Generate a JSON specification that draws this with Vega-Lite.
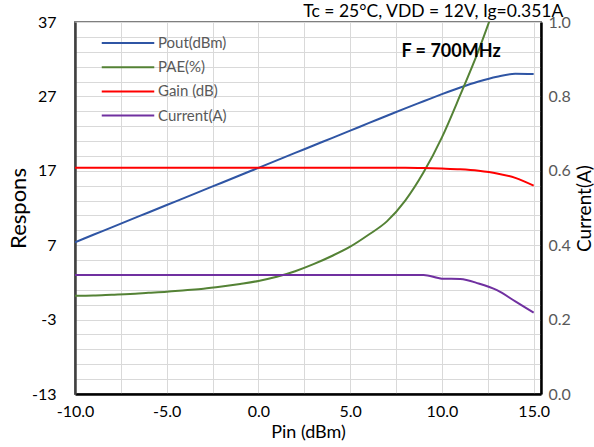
{
  "$schema": "https://vega.github.io/schema/vega-lite/v6.json",
  "width": 466,
  "height": 372,
  "autosize": {"type": "none"},
  "padding": {"left": 75, "top": 22, "right": 53, "bottom": 53},
  "background": "white",
  "config": {
    "font": "Lato",
    "view": {"stroke": "#7F7F7F", "strokeWidth": 2},
    "axis": {"gridColor": "#D9D9D9", "gridWidth": 1, "ticks": false, "labelFont": "Lato", "titleFont": "Lato", "titleFontWeight": "normal"},
    "legend": {"labelFont": "Lato"}
  },
  "title": {"text": "Tc = 25°C, VDD = 12V, Ig=0.351A", "anchor": "end", "fontSize": 17.5, "fontWeight": "normal", "color": "#000000", "offset": -6, "dx": -31, "font": "Lato"},
  "data": {"values": [
    {"Pin": -10, "series": "Pout(dBm)", "value": 7.4}, {"Pin": -9, "series": "Pout(dBm)", "value": 8.4}, {"Pin": -8, "series": "Pout(dBm)", "value": 9.4}, {"Pin": -7, "series": "Pout(dBm)", "value": 10.4}, {"Pin": -6, "series": "Pout(dBm)", "value": 11.4}, {"Pin": -5, "series": "Pout(dBm)", "value": 12.4}, {"Pin": -4, "series": "Pout(dBm)", "value": 13.4}, {"Pin": -3, "series": "Pout(dBm)", "value": 14.4}, {"Pin": -2, "series": "Pout(dBm)", "value": 15.4}, {"Pin": -1, "series": "Pout(dBm)", "value": 16.4}, {"Pin": 0, "series": "Pout(dBm)", "value": 17.4}, {"Pin": 1, "series": "Pout(dBm)", "value": 18.4}, {"Pin": 2, "series": "Pout(dBm)", "value": 19.4}, {"Pin": 3, "series": "Pout(dBm)", "value": 20.4}, {"Pin": 4, "series": "Pout(dBm)", "value": 21.4}, {"Pin": 5, "series": "Pout(dBm)", "value": 22.4}, {"Pin": 6, "series": "Pout(dBm)", "value": 23.4}, {"Pin": 7, "series": "Pout(dBm)", "value": 24.4}, {"Pin": 8, "series": "Pout(dBm)", "value": 25.4}, {"Pin": 9, "series": "Pout(dBm)", "value": 26.35}, {"Pin": 10, "series": "Pout(dBm)", "value": 27.3}, {"Pin": 11, "series": "Pout(dBm)", "value": 28.2}, {"Pin": 12, "series": "Pout(dBm)", "value": 29.0}, {"Pin": 13, "series": "Pout(dBm)", "value": 29.65}, {"Pin": 14, "series": "Pout(dBm)", "value": 30.05}, {"Pin": 15, "series": "Pout(dBm)", "value": 30.0},
    {"Pin": -10, "series": "PAE(%)", "value": 0.2}, {"Pin": -9, "series": "PAE(%)", "value": 0.25}, {"Pin": -8, "series": "PAE(%)", "value": 0.35}, {"Pin": -7, "series": "PAE(%)", "value": 0.45}, {"Pin": -6, "series": "PAE(%)", "value": 0.6}, {"Pin": -5, "series": "PAE(%)", "value": 0.75}, {"Pin": -4, "series": "PAE(%)", "value": 0.95}, {"Pin": -3, "series": "PAE(%)", "value": 1.15}, {"Pin": -2, "series": "PAE(%)", "value": 1.45}, {"Pin": -1, "series": "PAE(%)", "value": 1.8}, {"Pin": 0, "series": "PAE(%)", "value": 2.2}, {"Pin": 1, "series": "PAE(%)", "value": 2.75}, {"Pin": 2, "series": "PAE(%)", "value": 3.5}, {"Pin": 3, "series": "PAE(%)", "value": 4.45}, {"Pin": 4, "series": "PAE(%)", "value": 5.55}, {"Pin": 5, "series": "PAE(%)", "value": 6.8}, {"Pin": 6, "series": "PAE(%)", "value": 8.4}, {"Pin": 7, "series": "PAE(%)", "value": 10.2}, {"Pin": 8, "series": "PAE(%)", "value": 13.0}, {"Pin": 9, "series": "PAE(%)", "value": 16.8}, {"Pin": 10, "series": "PAE(%)", "value": 21.5}, {"Pin": 11, "series": "PAE(%)", "value": 27.2}, {"Pin": 12, "series": "PAE(%)", "value": 33.2}, {"Pin": 13, "series": "PAE(%)", "value": 40.0},
    {"Pin": -10, "series": "Gain (dB)", "value": 17.4}, {"Pin": -9, "series": "Gain (dB)", "value": 17.4}, {"Pin": -8, "series": "Gain (dB)", "value": 17.4}, {"Pin": -7, "series": "Gain (dB)", "value": 17.4}, {"Pin": -6, "series": "Gain (dB)", "value": 17.4}, {"Pin": -5, "series": "Gain (dB)", "value": 17.4}, {"Pin": -4, "series": "Gain (dB)", "value": 17.4}, {"Pin": -3, "series": "Gain (dB)", "value": 17.4}, {"Pin": -2, "series": "Gain (dB)", "value": 17.4}, {"Pin": -1, "series": "Gain (dB)", "value": 17.4}, {"Pin": 0, "series": "Gain (dB)", "value": 17.4}, {"Pin": 1, "series": "Gain (dB)", "value": 17.4}, {"Pin": 2, "series": "Gain (dB)", "value": 17.4}, {"Pin": 3, "series": "Gain (dB)", "value": 17.4}, {"Pin": 4, "series": "Gain (dB)", "value": 17.4}, {"Pin": 5, "series": "Gain (dB)", "value": 17.4}, {"Pin": 6, "series": "Gain (dB)", "value": 17.4}, {"Pin": 7, "series": "Gain (dB)", "value": 17.4}, {"Pin": 8, "series": "Gain (dB)", "value": 17.4}, {"Pin": 9, "series": "Gain (dB)", "value": 17.37}, {"Pin": 10, "series": "Gain (dB)", "value": 17.3}, {"Pin": 11, "series": "Gain (dB)", "value": 17.2}, {"Pin": 12, "series": "Gain (dB)", "value": 17.0}, {"Pin": 13, "series": "Gain (dB)", "value": 16.65}, {"Pin": 14, "series": "Gain (dB)", "value": 16.05}, {"Pin": 15, "series": "Gain (dB)", "value": 15.0},
    {"Pin": -10, "series": "Current(A)", "value": 0.32}, {"Pin": -9, "series": "Current(A)", "value": 0.32}, {"Pin": -8, "series": "Current(A)", "value": 0.32}, {"Pin": -7, "series": "Current(A)", "value": 0.32}, {"Pin": -6, "series": "Current(A)", "value": 0.32}, {"Pin": -5, "series": "Current(A)", "value": 0.32}, {"Pin": -4, "series": "Current(A)", "value": 0.32}, {"Pin": -3, "series": "Current(A)", "value": 0.32}, {"Pin": -2, "series": "Current(A)", "value": 0.32}, {"Pin": -1, "series": "Current(A)", "value": 0.32}, {"Pin": 0, "series": "Current(A)", "value": 0.32}, {"Pin": 1, "series": "Current(A)", "value": 0.32}, {"Pin": 2, "series": "Current(A)", "value": 0.32}, {"Pin": 3, "series": "Current(A)", "value": 0.32}, {"Pin": 4, "series": "Current(A)", "value": 0.32}, {"Pin": 5, "series": "Current(A)", "value": 0.32}, {"Pin": 6, "series": "Current(A)", "value": 0.32}, {"Pin": 7, "series": "Current(A)", "value": 0.32}, {"Pin": 8, "series": "Current(A)", "value": 0.32}, {"Pin": 9, "series": "Current(A)", "value": 0.32}, {"Pin": 10, "series": "Current(A)", "value": 0.31}, {"Pin": 11, "series": "Current(A)", "value": 0.309}, {"Pin": 12, "series": "Current(A)", "value": 0.297}, {"Pin": 13, "series": "Current(A)", "value": 0.279}, {"Pin": 14, "series": "Current(A)", "value": 0.249}, {"Pin": 15, "series": "Current(A)", "value": 0.219}
  ]},
  "layer": [
    {
      "transform": [{"filter": "datum.series !== 'Current(A)'"}],
      "mark": {"type": "line", "clip": true, "strokeWidth": 2, "interpolate": "monotone"},
      "encoding": {
        "x": {"field": "Pin", "type": "quantitative",
          "scale": {"domain": [-10, 15.4], "nice": false, "zero": false},
          "axis": {"values": [-10, -7.5, -5, -2.5, 0, 2.5, 5, 7.5, 10, 12.5, 15], "labelExpr": "datum.value % 5 === 0 ? replace(format(datum.value, '.1f'), '\u2212', '-') : ''", "title": "Pin (dBm)", "titleFontSize": 18, "titleColor": "#000000", "titlePadding": 4, "labelFontSize": 16, "labelColor": "#000000", "labelPadding": 9, "domainColor": "#000000", "domainWidth": 2.5, "grid": true, "labelFlush": false, "labelOverlap": false}},
        "y": {"field": "value", "type": "quantitative",
          "scale": {"domain": [-13, 37], "nice": false, "zero": false},
          "axis": {"values": [-13, -11, -9, -7, -5, -3, -1, 1, 3, 5, 7, 9, 11, 13, 15, 17, 19, 21, 23, 25, 27, 29, 31, 33, 35, 37], "labelExpr": "(datum.value + 13) % 10 === 0 ? replace(datum.label, '\u2212', '-') : ''", "title": "Respons", "titleFontSize": 22, "titleColor": "#000000", "titlePadding": 1, "labelFontSize": 16, "labelColor": "#000000", "labelPadding": 19, "domainColor": "#404040", "domainWidth": 2.5, "grid": true, "labelOverlap": false}},
        "color": {"field": "series", "type": "nominal",
          "scale": {"domain": ["Pout(dBm)", "PAE(%)", "Gain (dB)", "Current(A)"], "range": ["#2F55A4", "#548235", "#FF0000", "#7030A0"]},
          "legend": {"orient": "none", "legendX": 41.5, "legendY": 9.5, "title": null, "symbolType": "M-2.5,0H2.5", "symbolSize": 441, "symbolStrokeWidth": 2, "labelFontSize": 15, "labelColor": "#595959", "labelOffset": 18.5, "rowPadding": 4.2, "padding": 0}}
      }
    },
    {
      "transform": [{"filter": "datum.series === 'Current(A)'"}],
      "mark": {"type": "line", "clip": true, "strokeWidth": 2, "interpolate": "monotone"},
      "encoding": {
        "x": {"field": "Pin", "type": "quantitative"},
        "y": {"field": "value", "type": "quantitative",
          "scale": {"domain": [0, 1], "nice": false, "zero": false},
          "axis": {"orient": "right", "values": [0, 0.2, 0.4, 0.6, 0.8, 1.0], "format": ".1f", "title": "Current(A)", "titleAngle": 270, "titleBaseline": "top", "titleFontSize": 19, "titleColor": "#000000", "titlePadding": 5, "labelFontSize": 16, "labelColor": "#595959", "labelPadding": 7, "domainColor": "#000000", "domainWidth": 2.5, "grid": false}},
        "color": {"field": "series", "type": "nominal"}
      }
    },
    {
      "data": {"values": [{"label": "F = 700MHz", "Pin": 10.5, "value": 33}]},
      "mark": {"type": "text", "fontWeight": "bold", "fontSize": 18, "color": "#000000", "font": "Lato"},
      "encoding": {
        "x": {"field": "Pin", "type": "quantitative"},
        "y": {"field": "value", "type": "quantitative", "scale": {"domain": [-13, 37], "nice": false, "zero": false}, "axis": null},
        "text": {"field": "label"}
      }
    }
  ],
  "resolve": {"scale": {"y": "independent"}}
}
